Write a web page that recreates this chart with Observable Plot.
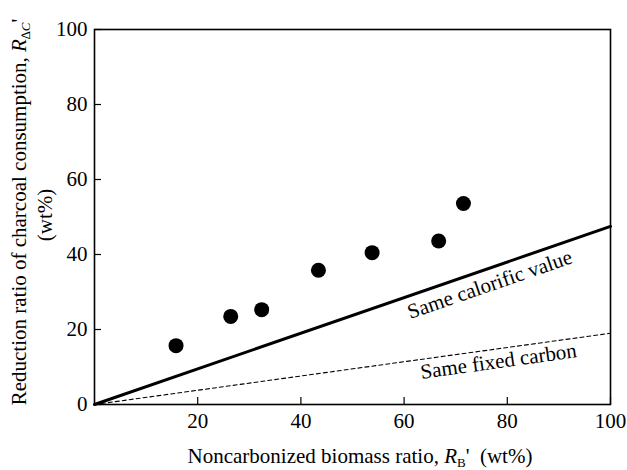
<!DOCTYPE html>
<html>
<head>
<meta charset="utf-8">
<script src="https://cdn.jsdelivr.net/npm/d3@7"></script>
<script src="https://cdn.jsdelivr.net/npm/@observablehq/plot@0.6"></script>
<style>
  html, body { margin: 0; padding: 0; background: #fff; font-family: 'Liberation Serif', serif; }
</style>
</head>
<body>
<div id="chart"></div>
<script>
// Measured points: noncarbonized biomass ratio vs reduction ratio of charcoal consumption
const biomassRatio = [15.8, 26.4, 32.4, 43.4, 53.8, 66.7, 71.5];
const reductionRatio = [15.7, 23.5, 25.3, 35.8, 40.5, 43.6, 53.6];

// Reference lines (endpoints at R_B' = 0 and 100)
const calorificLine = [{x: 0, y: 0}, {x: 100, y: 47.5}];
const fixedCarbonLine = [{x: 0, y: 0}, {x: 100, y: 19}];

// Line annotations
const lineLabels = ["Same calorific value", "Same fixed carbon"];
const lineLabelX = [76.6, 78.3];
const lineLabelY = [32, 11.5];
const lineLabelAngle = [-19, -8];

const xTicks = [20, 40, 60, 80, 100];
const yTicks = [0, 20, 40, 60, 80, 100];

const points = biomassRatio.map((x, i) => ({x, y: reductionRatio[i]}));
const labels = lineLabels.map((t, i) => ({t, x: lineLabelX[i], y: lineLabelY[i]}));

const FONT = "'Liberation Serif', 'Times New Roman', serif";

const chart = Plot.plot({
  width: 627,
  height: 470,
  marginLeft: 94,
  marginRight: 17,
  marginTop: 29,
  marginBottom: 66,
  style: {fontFamily: FONT, fontSize: "21px"},
  x: {domain: [0, 100]},
  y: {domain: [0, 100]},
  marks: [
    Plot.axisX({ticks: xTicks, tickSize: -7, tickPadding: 16, label: null, fontSize: 21, strokeWidth: 1.2}),
    Plot.axisY({ticks: yTicks, tickSize: -7, tickPadding: 14, label: null, fontSize: 21, strokeWidth: 1.2}),
    Plot.line(fixedCarbonLine, {x: "x", y: "y", stroke: "#000", strokeWidth: 1.1, strokeDasharray: "4,3"}),
    Plot.line(calorificLine, {x: "x", y: "y", stroke: "#000", strokeWidth: 3}),
    Plot.dot(points, {x: "x", y: "y", r: 7.5, fill: "#000"}),
    Plot.text(labels.slice(0, 1), {x: "x", y: "y", text: "t", rotate: lineLabelAngle[0], fontSize: 21, fill: "#000"}),
    Plot.text(labels.slice(1, 2), {x: "x", y: "y", text: "t", rotate: lineLabelAngle[1], fontSize: 21, fill: "#000"}),
    Plot.frame({stroke: "#000", strokeWidth: 1.6})
  ]
});
document.getElementById("chart").appendChild(chart);

// Axis titles with italic symbols and subscripts
const svg = d3.select(chart);
const xt = svg.append("text")
  .attr("x", 360).attr("y", 463)
  .attr("text-anchor", "middle")
  .attr("font-size", 21).attr("fill", "#000");
xt.append("tspan").text("Noncarbonized biomass ratio, ");
xt.append("tspan").attr("font-style", "italic").text("R");
xt.append("tspan").attr("font-size", 13).attr("dy", 4).text("B");
xt.append("tspan").attr("dy", -4).text("'  (wt%)");

const yt = svg.append("text")
  .attr("transform", "translate(26,212) rotate(-90)")
  .attr("text-anchor", "middle")
  .attr("font-size", 21).attr("fill", "#000");
yt.append("tspan").text("Reduction ratio of charcoal consumption, ");
yt.append("tspan").attr("font-style", "italic").text("R");
yt.append("tspan").attr("font-size", 13).attr("font-style", "italic").attr("dy", 4).text("\u2206C");
yt.append("tspan").attr("dy", -4).text("'");

svg.append("text")
  .attr("transform", "translate(52,215) rotate(-90)")
  .attr("text-anchor", "middle")
  .attr("font-size", 21).attr("fill", "#000")
  .text("(wt%)");
</script>
</body>
</html>
